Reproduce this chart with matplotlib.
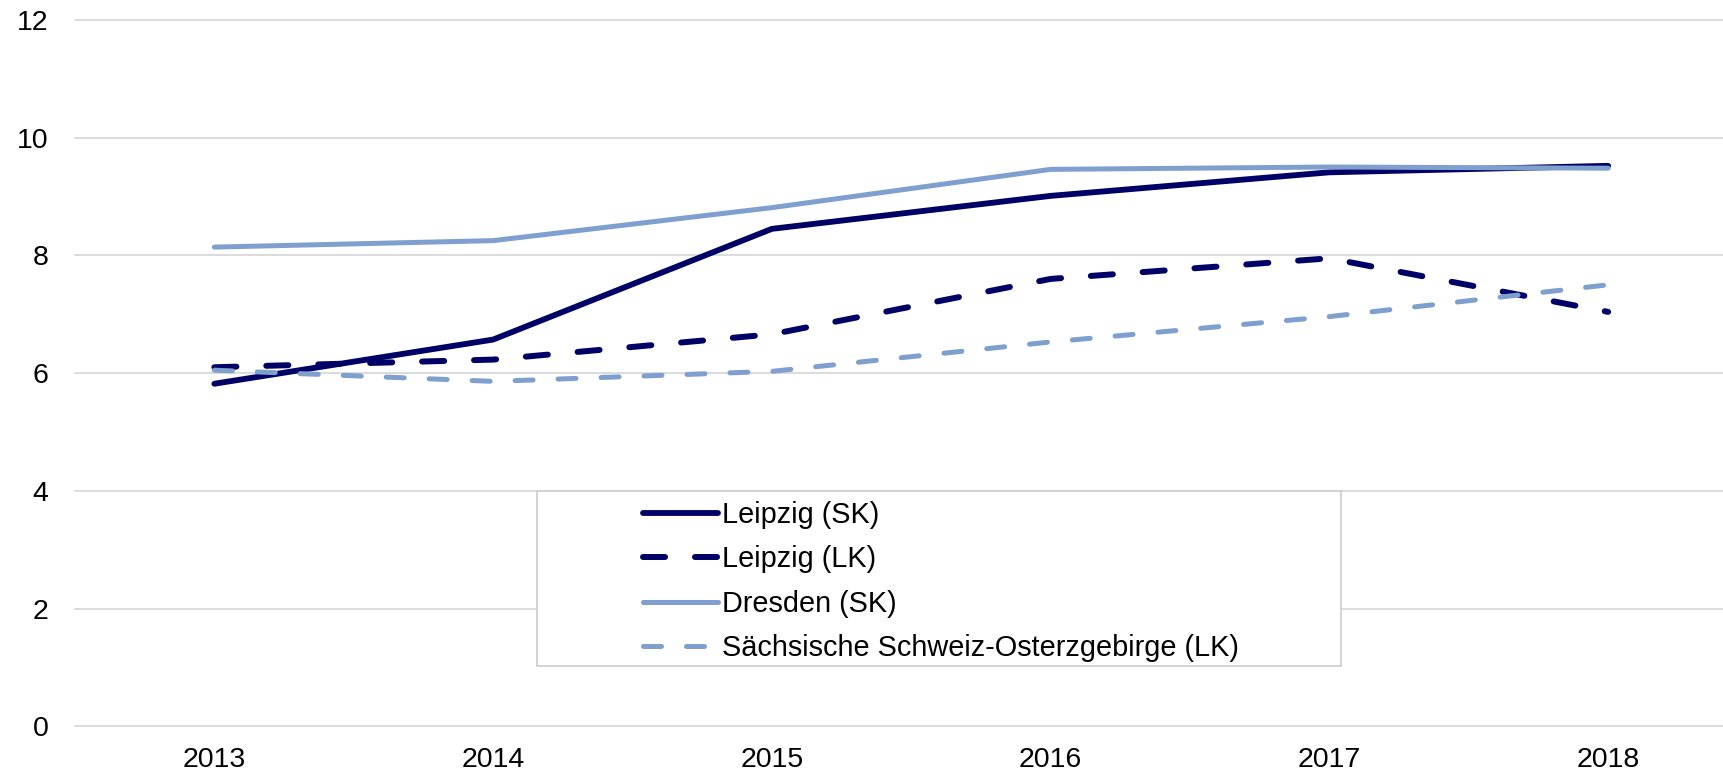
import numpy as np
import matplotlib
matplotlib.use('Agg')
import matplotlib.pyplot as plt
from matplotlib.patches import Rectangle

plt.rcParams['font.family'] = ['Liberation Sans', 'DejaVu Sans']

# Daten
jahre = ['2013', '2014', '2015', '2016', '2017', '2018']
leipzig_sk = [5.82, 6.57, 8.45, 9.01, 9.41, 9.52]
leipzig_lk = [6.10, 6.23, 6.66, 7.60, 7.95, 7.04]
dresden_sk = [8.14, 8.25, 8.81, 9.46, 9.50, 9.48]
saechs_lk = [6.05, 5.86, 6.03, 6.53, 6.96, 7.50]

dunkel = '#000066'
hell = '#7f9fcf'

fig = plt.figure(figsize=(17.23, 7.76), dpi=100)
ax = fig.add_axes([0.0435, 0.0638, 1 - 0.0435, 0.9107])

x = np.arange(len(jahre))
l1, = ax.plot(x, leipzig_sk, color=dunkel, lw=4.2, solid_capstyle='round', solid_joinstyle='round',
              label='Leipzig (SK)')
l2, = ax.plot(x, leipzig_lk, color=dunkel, lw=4.3, dashes=(3.7, 5.0), dash_capstyle='round',
              label='Leipzig (LK)')
l3, = ax.plot(x, dresden_sk, color=hell, lw=3.6, solid_capstyle='round', solid_joinstyle='round',
              label='Dresden (SK)')
l4, = ax.plot(x, saechs_lk, color=hell, lw=3.6, dashes=(3.6, 5.0), dash_capstyle='round',
              label='Sächsische Schweiz-Osterzgebirge (LK)')

ax.set_xlim(-0.5, 5.412)
ax.set_ylim(0, 12)
ax.set_yticks(range(0, 13, 2))
ax.set_xticks(x)
ax.set_xticklabels(jahre)
ax.tick_params(axis='both', length=0, labelsize=20.5)
ax.tick_params(axis='y', pad=19)
ax.tick_params(axis='x', pad=15)
ax.grid(axis='y', color='#d9d9d9', lw=1.3)
for g in ax.get_ygridlines():
    g.set_clip_on(False)
ax.set_axisbelow(True)
for s in ax.spines.values():
    s.set_visible(False)

# Legendenrahmen
box = Rectangle((537 / 1723, 1 - 666 / 776), (1341 - 537) / 1723, (666 - 491) / 776,
                transform=fig.transFigure, facecolor='white', edgecolor='#d0d0d0', lw=1.3,
                zorder=5, clip_on=False)
ax.add_artist(box)

leg = ax.legend(handles=[l1, l2, l3, l4], loc='upper left',
                bbox_to_anchor=(643 / 1723, 1 - 501 / 776), bbox_transform=fig.transFigure,
                frameon=False, fontsize=20.8, handlelength=2.6, handletextpad=0.15,
                labelspacing=0.565, borderpad=0, borderaxespad=0)
leg.set_zorder(6)

fig.savefig('out.png', dpi=100)
